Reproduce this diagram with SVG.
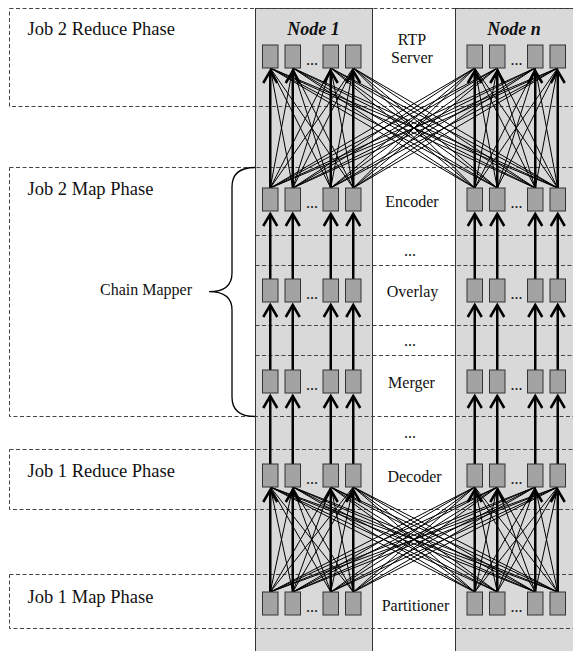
<svg xmlns="http://www.w3.org/2000/svg" width="573" height="651" viewBox="0 0 573 651">
<style>
.panel{fill:#d9d9d9;stroke:#333;stroke-width:1}
.phase{fill:none;stroke:#444;stroke-width:1;stroke-dasharray:4 2.5}
.task{fill:#a3a3a3;stroke:#333;stroke-width:1}
.thin{fill:none;stroke:#000;stroke-width:1}
.thick{fill:none;stroke:#000;stroke-width:2.5;marker-end:url(#ah)}
.lbl{font-family:"Liberation Serif","Times New Roman",serif;fill:#111}
.job{font-size:18.5px}
.mid{font-size:16px;text-anchor:middle}
.dots{font-size:16px;text-anchor:middle}
.node{font-size:18px;font-weight:bold;font-style:italic;text-anchor:middle}
</style>
<defs>
<marker id="ah" markerUnits="userSpaceOnUse" orient="auto" refX="0" refY="0" markerWidth="20" markerHeight="20" viewBox="-15 -10 20 20" overflow="visible">
<path d="M-12,-7 L0,0 L-12,7" fill="none" stroke="#000" stroke-width="2.5" stroke-linejoin="miter"/>
</marker>
</defs>
<rect width="573" height="651" fill="#fff"/>

<g id="panel-node1"><rect class="panel" x="255.5" y="8.5" width="117" height="650"/><text class="lbl node" x="313.5" y="35">Node 1</text></g>
<g id="panel-noden"><rect class="panel" x="455.5" y="8.5" width="125" height="650"/><text class="lbl node" x="514" y="35">Node n</text></g>

<g id="phase-job2-reduce"><rect class="phase" x="9.5" y="8.5" width="575" height="98"/><text class="lbl job" x="27.5" y="35">Job 2 Reduce Phase</text></g>
<g id="phase-job2-map"><rect class="phase" x="9.5" y="167.5" width="575" height="249"/><text class="lbl job" x="27.5" y="195">Job 2 Map Phase</text>
<path class="phase" d="M255.5 235.5H580M255.5 265.5H580M255.5 325.5H580M255.5 355.5H580"/></g>
<g id="phase-job1-reduce"><rect class="phase" x="9.5" y="449.5" width="575" height="60"/><text class="lbl job" x="27.5" y="476.5">Job 1 Reduce Phase</text></g>
<g id="phase-job1-map"><rect class="phase" x="9.5" y="574.5" width="575" height="54"/><text class="lbl job" x="27.5" y="602.5">Job 1 Map Phase</text></g>

<g id="chain-mapper">
<path d="M255 167.5Q232 167.5 232 187L232 273Q232 291.7 209 291.7Q232 291.7 232 310L232 397Q232 416.5 255 416.5" fill="none" stroke="#000" stroke-width="1.3"/>
<text class="lbl" style="font-size:16px" x="100" y="295">Chain Mapper</text>
</g>

<g id="stage-labels">
<text class="lbl mid" x="412" y="45">RTP</text>
<text class="lbl mid" x="412" y="63">Server</text>
<text class="lbl mid" x="412" y="207">Encoder</text>
<text class="lbl dots" x="410" y="256">...</text>
<text class="lbl mid" x="412.5" y="297">Overlay</text>
<text class="lbl dots" x="410" y="346">...</text>
<text class="lbl mid" x="411.5" y="388">Merger</text>
<text class="lbl dots" x="410" y="437.5">...</text>
<text class="lbl mid" x="414.5" y="482">Decoder</text>
<text class="lbl mid" x="415.5" y="610.5">Partitioner</text>
</g>

<g id="connectors">
<path class="thin" d="M270.25 188L292.75 68M270.25 188L330.75 68M270.25 188L353.25 68M270.25 188L474.75 68M270.25 188L497.25 68M270.25 188L535.25 68M270.25 188L557.75 68M292.75 188L270.25 68M292.75 188L330.75 68M292.75 188L353.25 68M292.75 188L474.75 68M292.75 188L497.25 68M292.75 188L535.25 68M292.75 188L557.75 68M330.75 188L270.25 68M330.75 188L292.75 68M330.75 188L353.25 68M330.75 188L474.75 68M330.75 188L497.25 68M330.75 188L535.25 68M330.75 188L557.75 68M353.25 188L270.25 68M353.25 188L292.75 68M353.25 188L330.75 68M353.25 188L474.75 68M353.25 188L497.25 68M353.25 188L535.25 68M353.25 188L557.75 68M474.75 188L270.25 68M474.75 188L292.75 68M474.75 188L330.75 68M474.75 188L353.25 68M474.75 188L497.25 68M474.75 188L535.25 68M474.75 188L557.75 68M497.25 188L270.25 68M497.25 188L292.75 68M497.25 188L330.75 68M497.25 188L353.25 68M497.25 188L474.75 68M497.25 188L535.25 68M497.25 188L557.75 68M535.25 188L270.25 68M535.25 188L292.75 68M535.25 188L330.75 68M535.25 188L353.25 68M535.25 188L474.75 68M535.25 188L497.25 68M535.25 188L557.75 68M557.75 188L270.25 68M557.75 188L292.75 68M557.75 188L330.75 68M557.75 188L353.25 68M557.75 188L474.75 68M557.75 188L497.25 68M557.75 188L535.25 68"/>
<path class="thin" d="M270.25 592L292.75 487M270.25 592L330.75 487M270.25 592L353.25 487M270.25 592L474.75 487M270.25 592L497.25 487M270.25 592L535.25 487M270.25 592L557.75 487M292.75 592L270.25 487M292.75 592L330.75 487M292.75 592L353.25 487M292.75 592L474.75 487M292.75 592L497.25 487M292.75 592L535.25 487M292.75 592L557.75 487M330.75 592L270.25 487M330.75 592L292.75 487M330.75 592L353.25 487M330.75 592L474.75 487M330.75 592L497.25 487M330.75 592L535.25 487M330.75 592L557.75 487M353.25 592L270.25 487M353.25 592L292.75 487M353.25 592L330.75 487M353.25 592L474.75 487M353.25 592L497.25 487M353.25 592L535.25 487M353.25 592L557.75 487M474.75 592L270.25 487M474.75 592L292.75 487M474.75 592L330.75 487M474.75 592L353.25 487M474.75 592L497.25 487M474.75 592L535.25 487M474.75 592L557.75 487M497.25 592L270.25 487M497.25 592L292.75 487M497.25 592L330.75 487M497.25 592L353.25 487M497.25 592L474.75 487M497.25 592L535.25 487M497.25 592L557.75 487M535.25 592L270.25 487M535.25 592L292.75 487M535.25 592L330.75 487M535.25 592L353.25 487M535.25 592L474.75 487M535.25 592L497.25 487M535.25 592L557.75 487M557.75 592L270.25 487M557.75 592L292.75 487M557.75 592L330.75 487M557.75 592L353.25 487M557.75 592L474.75 487M557.75 592L497.25 487M557.75 592L535.25 487"/>
<!-- Encoder to RTP -->
<path class="thick" d="M270.25 188V71"/><path class="thick" d="M292.75 188V71"/><path class="thick" d="M330.75 188V71"/><path class="thick" d="M353.25 188V71"/>
<path class="thick" d="M474.75 188V71"/><path class="thick" d="M497.25 188V71"/><path class="thick" d="M535.25 188V71"/><path class="thick" d="M557.75 188V71"/>
<!-- Overlay to Encoder -->
<path class="thick" d="M270.25 279V214"/><path class="thick" d="M292.75 279V214"/><path class="thick" d="M330.75 279V214"/><path class="thick" d="M353.25 279V214"/>
<path class="thick" d="M474.75 279V214"/><path class="thick" d="M497.25 279V214"/><path class="thick" d="M535.25 279V214"/><path class="thick" d="M557.75 279V214"/>
<!-- Merger to Overlay -->
<path class="thick" d="M270.25 370V305"/><path class="thick" d="M292.75 370V305"/><path class="thick" d="M330.75 370V305"/><path class="thick" d="M353.25 370V305"/>
<path class="thick" d="M474.75 370V305"/><path class="thick" d="M497.25 370V305"/><path class="thick" d="M535.25 370V305"/><path class="thick" d="M557.75 370V305"/>
<!-- Decoder to Merger -->
<path class="thick" d="M270.25 464V396"/><path class="thick" d="M292.75 464V396"/><path class="thick" d="M330.75 464V396"/><path class="thick" d="M353.25 464V396"/>
<path class="thick" d="M474.75 464V396"/><path class="thick" d="M497.25 464V396"/><path class="thick" d="M535.25 464V396"/><path class="thick" d="M557.75 464V396"/>
<!-- Partitioner to Decoder -->
<path class="thick" d="M270.25 592V490"/><path class="thick" d="M292.75 592V490"/><path class="thick" d="M330.75 592V490"/><path class="thick" d="M353.25 592V490"/>
<path class="thick" d="M474.75 592V490"/><path class="thick" d="M497.25 592V490"/><path class="thick" d="M535.25 592V490"/><path class="thick" d="M557.75 592V490"/>
</g>

<g id="n1-rtp"><rect class="task" x="262.5" y="45" width="15.5" height="23"/><rect class="task" x="285" y="45" width="15.5" height="23"/><rect class="task" x="323" y="45" width="15.5" height="23"/><rect class="task" x="345.5" y="45" width="15.5" height="23"/><text class="lbl dots" x="312" y="64.5">...</text></g>
<g id="nn-rtp"><rect class="task" x="467" y="45" width="15.5" height="23"/><rect class="task" x="489.5" y="45" width="15.5" height="23"/><rect class="task" x="527.5" y="45" width="15.5" height="23"/><rect class="task" x="550" y="45" width="15.5" height="23"/><text class="lbl dots" x="516.5" y="64.5">...</text></g>

<g id="n1-encoder"><rect class="task" x="262.5" y="188" width="15.5" height="23"/><rect class="task" x="285" y="188" width="15.5" height="23"/><rect class="task" x="323" y="188" width="15.5" height="23"/><rect class="task" x="345.5" y="188" width="15.5" height="23"/><text class="lbl dots" x="312" y="207.5">...</text></g>
<g id="nn-encoder"><rect class="task" x="467" y="188" width="15.5" height="23"/><rect class="task" x="489.5" y="188" width="15.5" height="23"/><rect class="task" x="527.5" y="188" width="15.5" height="23"/><rect class="task" x="550" y="188" width="15.5" height="23"/><text class="lbl dots" x="516.5" y="207.5">...</text></g>

<g id="n1-overlay"><rect class="task" x="262.5" y="279" width="15.5" height="23"/><rect class="task" x="285" y="279" width="15.5" height="23"/><rect class="task" x="323" y="279" width="15.5" height="23"/><rect class="task" x="345.5" y="279" width="15.5" height="23"/><text class="lbl dots" x="312" y="298.5">...</text></g>
<g id="nn-overlay"><rect class="task" x="467" y="279" width="15.5" height="23"/><rect class="task" x="489.5" y="279" width="15.5" height="23"/><rect class="task" x="527.5" y="279" width="15.5" height="23"/><rect class="task" x="550" y="279" width="15.5" height="23"/><text class="lbl dots" x="516.5" y="298.5">...</text></g>

<g id="n1-merger"><rect class="task" x="262.5" y="370" width="15.5" height="23"/><rect class="task" x="285" y="370" width="15.5" height="23"/><rect class="task" x="323" y="370" width="15.5" height="23"/><rect class="task" x="345.5" y="370" width="15.5" height="23"/><text class="lbl dots" x="312" y="389.5">...</text></g>
<g id="nn-merger"><rect class="task" x="467" y="370" width="15.5" height="23"/><rect class="task" x="489.5" y="370" width="15.5" height="23"/><rect class="task" x="527.5" y="370" width="15.5" height="23"/><rect class="task" x="550" y="370" width="15.5" height="23"/><text class="lbl dots" x="516.5" y="389.5">...</text></g>

<g id="n1-decoder"><rect class="task" x="262.5" y="464" width="15.5" height="23"/><rect class="task" x="285" y="464" width="15.5" height="23"/><rect class="task" x="323" y="464" width="15.5" height="23"/><rect class="task" x="345.5" y="464" width="15.5" height="23"/><text class="lbl dots" x="312" y="483.5">...</text></g>
<g id="nn-decoder"><rect class="task" x="467" y="464" width="15.5" height="23"/><rect class="task" x="489.5" y="464" width="15.5" height="23"/><rect class="task" x="527.5" y="464" width="15.5" height="23"/><rect class="task" x="550" y="464" width="15.5" height="23"/><text class="lbl dots" x="516.5" y="483.5">...</text></g>

<g id="n1-partitioner"><rect class="task" x="262.5" y="592" width="15.5" height="23"/><rect class="task" x="285" y="592" width="15.5" height="23"/><rect class="task" x="323" y="592" width="15.5" height="23"/><rect class="task" x="345.5" y="592" width="15.5" height="23"/><text class="lbl dots" x="312" y="611.5">...</text></g>
<g id="nn-partitioner"><rect class="task" x="467" y="592" width="15.5" height="23"/><rect class="task" x="489.5" y="592" width="15.5" height="23"/><rect class="task" x="527.5" y="592" width="15.5" height="23"/><rect class="task" x="550" y="592" width="15.5" height="23"/><text class="lbl dots" x="516.5" y="611.5">...</text></g>
</svg>
